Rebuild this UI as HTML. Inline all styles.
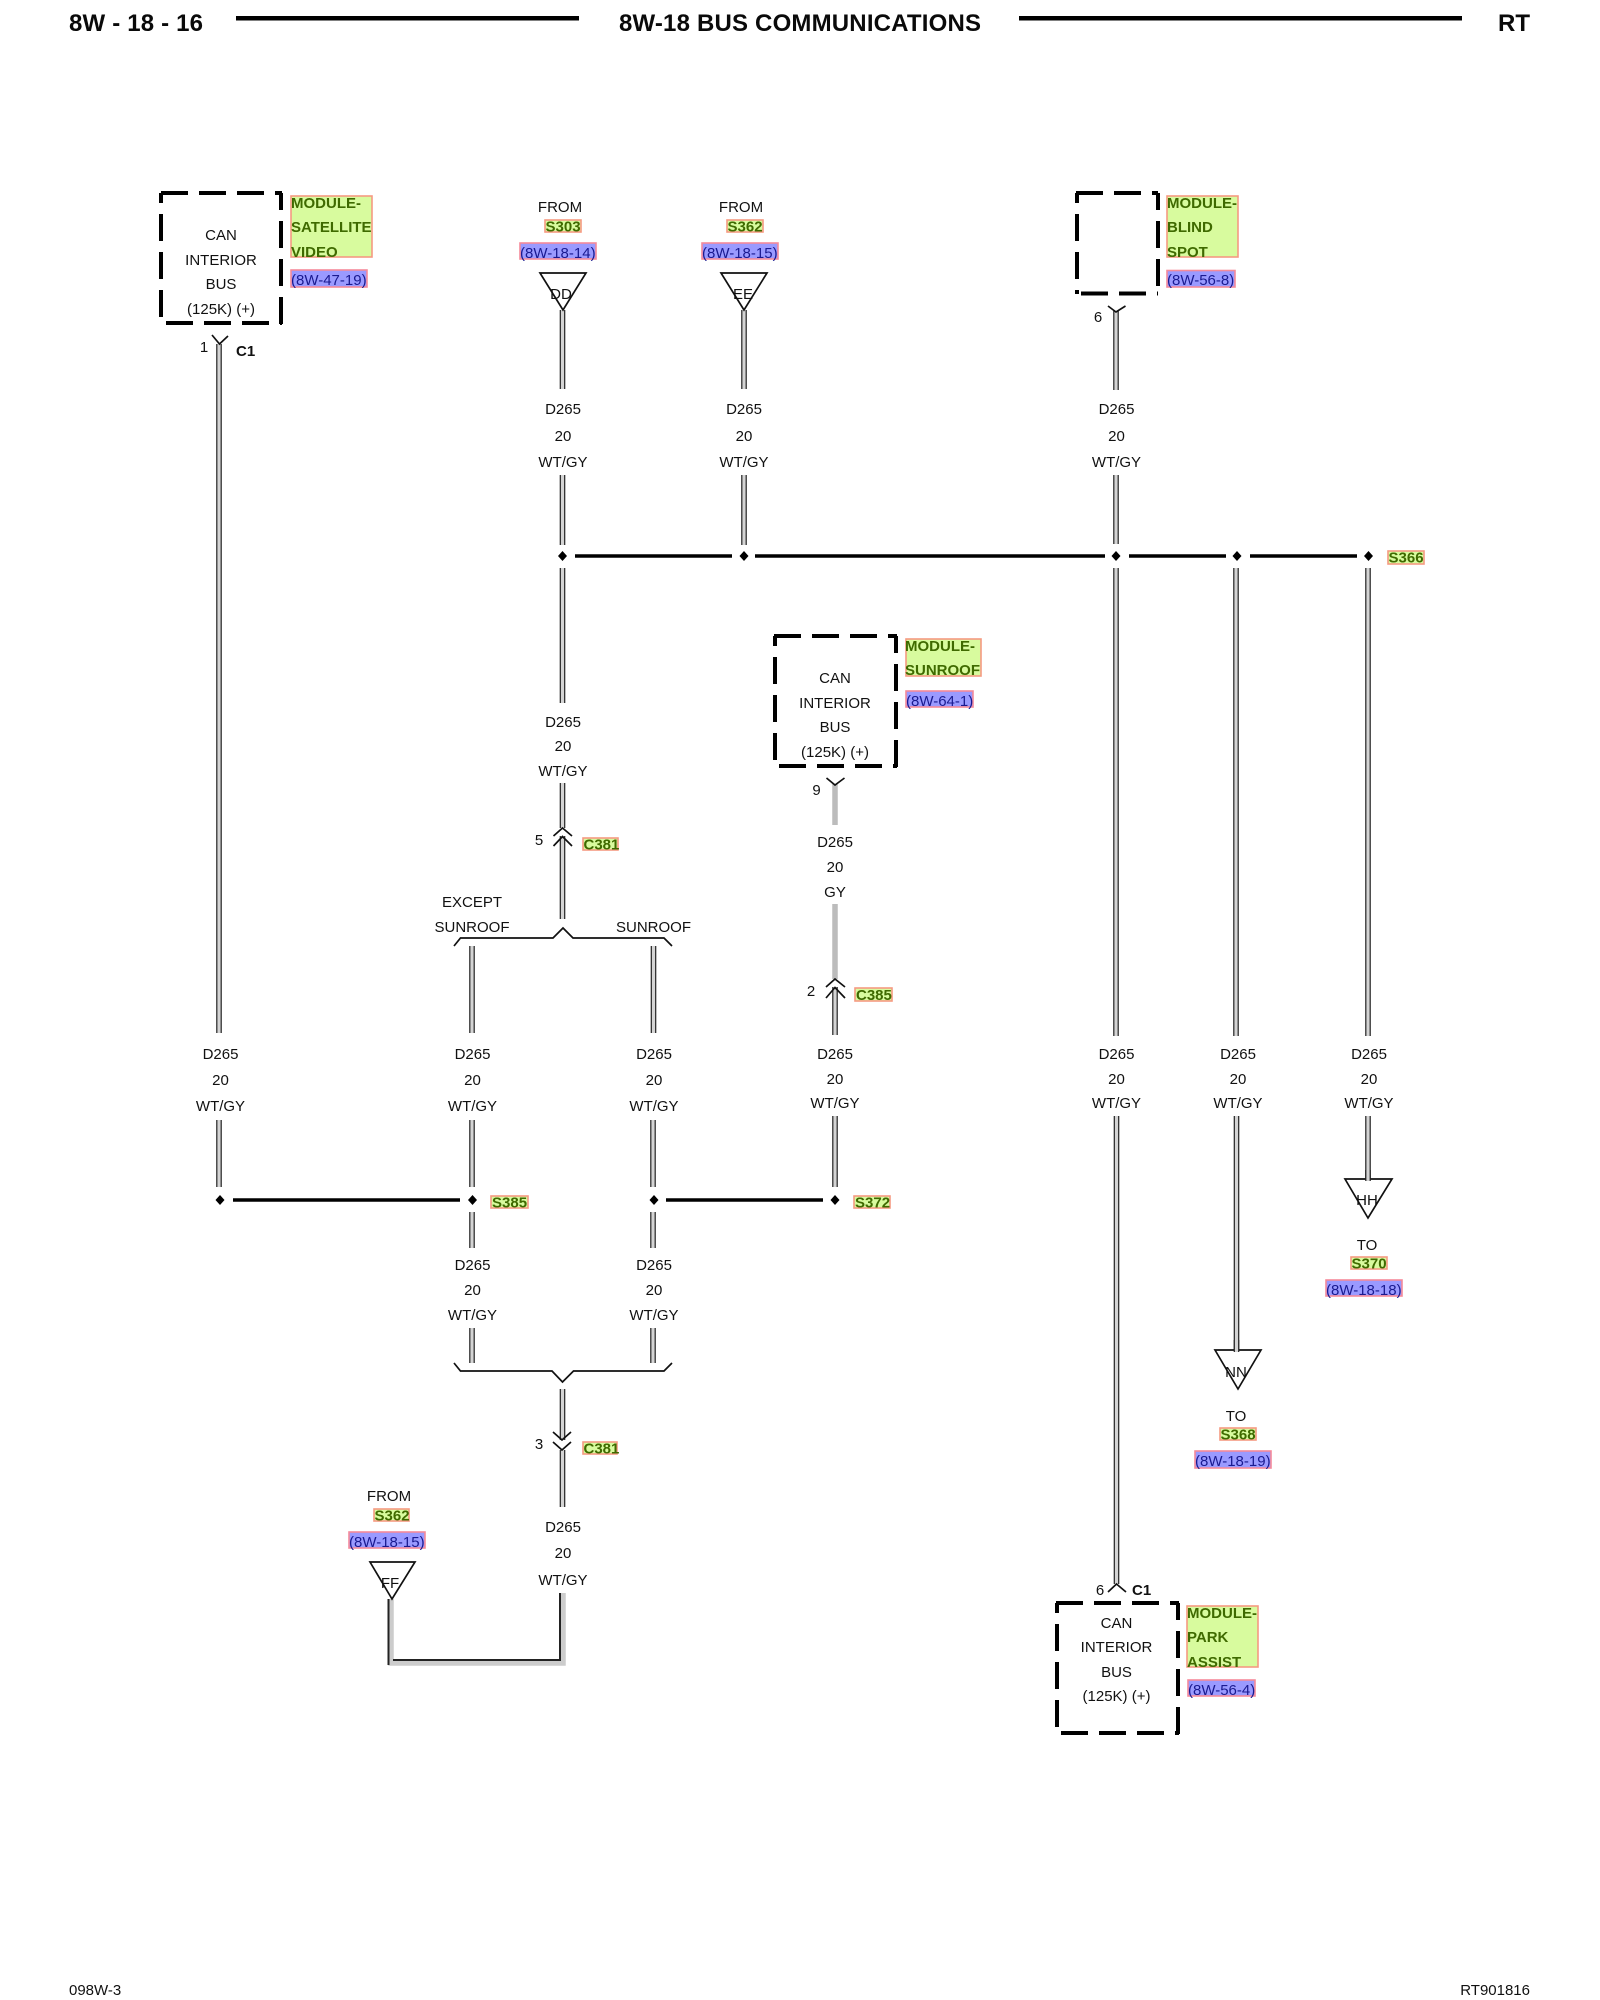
<!DOCTYPE html>
<html><head><meta charset="utf-8"><title>8W-18 Bus Communications</title>
<style>
html,body{margin:0;padding:0;background:#fff}
svg{display:block}
text{font-family:"Liberation Sans",Arial,sans-serif;font-size:15px;fill:#111}
.m{text-anchor:middle}
.h{font-weight:bold;font-size:24px;fill:#0a0a0a}
.b{font-weight:bold}
.gt{font-weight:bold;fill:#3f6a00}
.bt{fill:#1a1a90}
.gb{fill:#d8fb9e;stroke:#f59a82;stroke-width:1.6}
.bb{fill:#9a9aff;stroke:#f58a9a;stroke-width:1.6}
.d{stroke:#000;stroke-width:4;fill:none;stroke-dasharray:27 11}
.l{stroke:#000;stroke-width:3.6;fill:none}
.t{stroke:#111;stroke-width:1.7;fill:none}
.tri{stroke:#111;stroke-width:1.7;fill:#fff}
</style></head>
<body>
<svg xmlns="http://www.w3.org/2000/svg" width="1600" height="2000" viewBox="0 0 1600 2000">
<rect width="1600" height="2000" fill="#fff"/>

<!-- header -->
<text class="h" x="69" y="31" textLength="134">8W - 18 - 16</text>
<text class="h" x="619" y="31" textLength="362">8W-18 BUS COMMUNICATIONS</text>
<text class="h" x="1498" y="31">RT</text>
<rect x="236" y="16" width="343" height="4.5" fill="#000"/>
<rect x="1019" y="16" width="443" height="4.5" fill="#000"/>

<!-- module boxes -->
<g>
<path class="d" d="M161 193H282"/><path class="d" d="M161 193V324" stroke-dashoffset="17"/><path class="d" d="M161 323H282" stroke-dashoffset="33"/><path class="d" d="M281 193V324" stroke-dashoffset="10"/>
<path class="d" d="M1076 193H1158"/><path class="d" d="M1077 193V294" stroke-dashoffset="17"/><path class="d" d="M1076 293.500H1158" stroke-dashoffset="33"/><path class="d" d="M1158 193V294" stroke-dashoffset="10"/>
<path class="d" d="M774 636H897"/><path class="d" d="M775 636V767" stroke-dashoffset="17"/><path class="d" d="M774 766H897" stroke-dashoffset="33"/><path class="d" d="M896 636V767" stroke-dashoffset="10"/>
<path class="d" d="M1056 1603H1179"/><path class="d" d="M1057 1603V1734" stroke-dashoffset="17"/><path class="d" d="M1056 1733H1179" stroke-dashoffset="33"/><path class="d" d="M1178 1603V1734" stroke-dashoffset="10"/>
</g>

<!-- wires -->
<path stroke="#222" stroke-width="5.600" fill="none" d="M219 344V1033M562.500 310V389M562.500 475V545M562.500 568V703M562.500 783V828M562.500 836V919M744 310V389M744 475V545M1116 311V390M1116 475V544M1116 568V1036M1236 568V1036M1368 568V1036M472 946V1033M653.500 946V1033M219 1120V1187M472 1120V1187M653 1120V1187M835 987V1035M835 1116V1187M472 1212V1248M653 1212V1248M472 1328V1363M653 1328V1363M562.500 1389V1440M562.500 1450V1507M1116.500 1116V1584M1236.500 1116V1352M1368 1116V1181"/>
<path stroke="#d4d4d4" stroke-width="3.200" fill="none" d="M219 344V1033M562.500 310V389M562.500 475V545M562.500 568V703M562.500 783V828M562.500 836V919M744 310V389M744 475V545M1116 311V390M1116 475V544M1116 568V1036M1236 568V1036M1368 568V1036M472 946V1033M653.500 946V1033M219 1120V1187M472 1120V1187M653 1120V1187M835 987V1035M835 1116V1187M472 1212V1248M653 1212V1248M472 1328V1363M653 1328V1363M562.500 1389V1440M562.500 1450V1507M1116.500 1116V1584M1236.500 1116V1352M1368 1116V1181"/>
<!-- grey wire -->
<path stroke="#bcbcbc" stroke-width="5.500" fill="none" d="M835 784V825M835 904V979"/>
<!-- bottom loop -->
<path stroke="#ccc" stroke-width="5.500" fill="none" d="M391 1599V1663H563V1593"/>
<path stroke="#222" stroke-width="2" fill="none" d="M388.500 1599V1665M393 1660H560V1593"/>

<!-- black bus lines -->
<path class="l" d="M575 556H732M755 556H1105M1129 556H1226M1250 556H1357M233 1200H460M666 1200H823"/>
<!-- splices -->
<g fill="#000">
<path d="M562.500 551l4.500 5-4.500 5-4.500-5zM744 551l4.500 5-4.500 5-4.500-5zM1116 551l4.500 5-4.500 5-4.500-5zM1237 551l4.500 5-4.500 5-4.500-5zM1368.500 551l4.500 5-4.500 5-4.500-5z"/>
<path d="M220 1195l4.500 5-4.500 5-4.500-5zM472.500 1195l4.500 5-4.500 5-4.500-5zM654 1195l4.500 5-4.500 5-4.500-5zM835 1195l4.500 5-4.500 5-4.500-5z"/>
</g>

<!-- forks, chevrons, braces -->
<path class="t" d="M212 335L219.500 344L228 336M1108 306L1116 312L1125.500 306M826.500 778L835 785L844.500 778M1108 1592L1116.500 1584L1126 1592"/>
<path class="t" d="M553.500 836L562.500 828L572 836M553.500 846L562.500 836.500L572 846M826 987L835 979L845 987M826 998L835 987.500L845 998"/>
<path class="t" d="M553 1432L562 1440L571 1432M553 1442L562 1450L571 1442"/>
<path class="t" d="M454 946L460.500 938H553L563 928L573 938H664L672 946"/>
<path class="t" d="M454 1363L460.500 1371H552L562.500 1382L573.500 1371H664L672 1363"/>

<!-- triangles -->
<path class="tri" d="M540 273H586L563 310Z"/>
<path class="tri" d="M721 273H767L744 310Z"/>
<path class="tri" d="M370 1562H415L392 1599Z"/>
<path class="tri" d="M1345 1179H1392L1368 1218Z"/>
<path class="tri" d="M1215 1350H1261L1238 1389Z"/>
<path stroke="#222" stroke-width="5.600" d="M1368 1170V1181M1236.500 1340V1352"/>
<path stroke="#d4d4d4" stroke-width="3.200" d="M1368 1170V1181M1236.500 1340V1352"/>
<text class="m" x="561" y="299">DD</text>
<text class="m" x="743" y="299">EE</text>
<text class="m" x="390" y="1588">FF</text>
<text class="m" x="1367" y="1205">HH</text>
<text class="m" x="1236" y="1377">NN</text>

<!-- green module labels -->
<rect class="gb" x="291" y="196" width="81" height="61"/>
<text class="gt" x="291" y="208">MODULE-</text><text class="gt" x="291" y="232">SATELLITE</text><text class="gt" x="291" y="257">VIDEO</text>
<rect class="gb" x="1167" y="196" width="71" height="61"/>
<text class="gt" x="1167" y="208">MODULE-</text><text class="gt" x="1167" y="232">BLIND</text><text class="gt" x="1167" y="257">SPOT</text>
<rect class="gb" x="906" y="639" width="75" height="37"/>
<text class="gt" x="905" y="651">MODULE-</text><text class="gt" x="905" y="675">SUNROOF</text>
<rect class="gb" x="1187" y="1606" width="71" height="61"/>
<text class="gt" x="1187" y="1618">MODULE-</text><text class="gt" x="1187" y="1642">PARK</text><text class="gt" x="1187" y="1667">ASSIST</text>

<!-- blue refs -->
<rect class="bb" x="291" y="270" width="76" height="17"/><text class="bt" x="291" y="285">(8W-47-19)</text>
<rect class="bb" x="520" y="243" width="76" height="16"/><text class="bt" x="520" y="258">(8W-18-14)</text>
<rect class="bb" x="702" y="243" width="76" height="16"/><text class="bt" x="702" y="258">(8W-18-15)</text>
<rect class="bb" x="1167" y="270.500" width="68" height="16.500"/><text class="bt" x="1167" y="285">(8W-56-8)</text>
<rect class="bb" x="906" y="691" width="67" height="16"/><text class="bt" x="906" y="706">(8W-64-1)</text>
<rect class="bb" x="1188" y="1680" width="67" height="16"/><text class="bt" x="1188" y="1695">(8W-56-4)</text>
<rect class="bb" x="349" y="1532" width="76" height="16"/><text class="bt" x="349" y="1547">(8W-18-15)</text>
<rect class="bb" x="1326" y="1280" width="76" height="16"/><text class="bt" x="1326" y="1295">(8W-18-18)</text>
<rect class="bb" x="1195" y="1451" width="76" height="17"/><text class="bt" x="1195" y="1466">(8W-18-19)</text>

<!-- green tags -->
<rect class="gb" x="545" y="220" width="36" height="12"/><text class="gt" x="545.500" y="231.500">S303</text>
<rect class="gb" x="727" y="220" width="36" height="12"/><text class="gt" x="727.500" y="231.500">S362</text>
<rect class="gb" x="1388" y="551" width="36" height="13"/><text class="gt" x="1388.500" y="562.500">S366</text>
<rect class="gb" x="583" y="838" width="35" height="12"/><text class="gt" x="583.500" y="849.500">C381</text>
<rect class="gb" x="855" y="988" width="37" height="13"/><text class="gt" x="856" y="1000">C385</text>
<rect class="gb" x="491" y="1196" width="37" height="12"/><text class="gt" x="492" y="1207.500">S385</text>
<rect class="gb" x="854" y="1196" width="36" height="12"/><text class="gt" x="855" y="1207.500">S372</text>
<rect class="gb" x="583" y="1442" width="34" height="12"/><text class="gt" x="583.500" y="1453.500">C381</text>
<rect class="gb" x="374" y="1509" width="35" height="12"/><text class="gt" x="374.500" y="1520.500">S362</text>
<rect class="gb" x="1351" y="1257" width="36" height="12"/><text class="gt" x="1351.500" y="1268.500">S370</text>
<rect class="gb" x="1220" y="1428" width="36" height="12"/><text class="gt" x="1220.500" y="1439.500">S368</text>

<!-- box text -->
<g>
<text x="221" y="240" text-anchor="middle">CAN</text><text x="221" y="265" text-anchor="middle">INTERIOR</text><text x="221" y="289" text-anchor="middle">BUS</text><text x="221" y="314" text-anchor="middle">(125K) (+)</text>
<text x="835" y="683" text-anchor="middle">CAN</text><text x="835" y="708" text-anchor="middle">INTERIOR</text><text x="835" y="732" text-anchor="middle">BUS</text><text x="835" y="757" text-anchor="middle">(125K) (+)</text>
<text x="1116.500" y="1628" text-anchor="middle">CAN</text><text x="1116.500" y="1652" text-anchor="middle">INTERIOR</text><text x="1116.500" y="1677" text-anchor="middle">BUS</text><text x="1116.500" y="1701" text-anchor="middle">(125K) (+)</text>

<text x="560" y="212" text-anchor="middle">FROM</text>
<text x="741" y="212" text-anchor="middle">FROM</text>
<text x="389" y="1501" text-anchor="middle">FROM</text>
<text x="1367" y="1250" text-anchor="middle">TO</text>
<text x="1236" y="1421" text-anchor="middle">TO</text>
<text x="472" y="907" text-anchor="middle">EXCEPT</text>
<text x="472" y="932" text-anchor="middle">SUNROOF</text>
<text x="653.500" y="932" text-anchor="middle">SUNROOF</text>

<text x="204" y="352" text-anchor="middle">1</text>
<text x="1098" y="322" text-anchor="middle">6</text>
<text x="816.500" y="795" text-anchor="middle">9</text>
<text x="539" y="845" text-anchor="middle">5</text>
<text x="811" y="996" text-anchor="middle">2</text>
<text x="539" y="1449" text-anchor="middle">3</text>
<text x="1100" y="1595" text-anchor="middle">6</text>

<!-- wire labels -->
<text x="563" y="414" text-anchor="middle">D265</text><text x="563" y="441" text-anchor="middle">20</text><text x="563" y="467" text-anchor="middle">WT/GY</text>
<text x="744" y="414" text-anchor="middle">D265</text><text x="744" y="441" text-anchor="middle">20</text><text x="744" y="467" text-anchor="middle">WT/GY</text>
<text x="1116.500" y="414" text-anchor="middle">D265</text><text x="1116.500" y="441" text-anchor="middle">20</text><text x="1116.500" y="467" text-anchor="middle">WT/GY</text>
<text x="563" y="727" text-anchor="middle">D265</text><text x="563" y="751" text-anchor="middle">20</text><text x="563" y="776" text-anchor="middle">WT/GY</text>
<text x="835" y="847" text-anchor="middle">D265</text><text x="835" y="872" text-anchor="middle">20</text><text x="835" y="897" text-anchor="middle">GY</text>
<text x="220.500" y="1059" text-anchor="middle">D265</text><text x="220.500" y="1085" text-anchor="middle">20</text><text x="220.500" y="1111" text-anchor="middle">WT/GY</text>
<text x="472.500" y="1059" text-anchor="middle">D265</text><text x="472.500" y="1085" text-anchor="middle">20</text><text x="472.500" y="1111" text-anchor="middle">WT/GY</text>
<text x="654" y="1059" text-anchor="middle">D265</text><text x="654" y="1085" text-anchor="middle">20</text><text x="654" y="1111" text-anchor="middle">WT/GY</text>
<text x="835" y="1059" text-anchor="middle">D265</text><text x="835" y="1084" text-anchor="middle">20</text><text x="835" y="1108" text-anchor="middle">WT/GY</text>
<text x="1116.500" y="1059" text-anchor="middle">D265</text><text x="1116.500" y="1084" text-anchor="middle">20</text><text x="1116.500" y="1108" text-anchor="middle">WT/GY</text>
<text x="1238" y="1059" text-anchor="middle">D265</text><text x="1238" y="1084" text-anchor="middle">20</text><text x="1238" y="1108" text-anchor="middle">WT/GY</text>
<text x="1369" y="1059" text-anchor="middle">D265</text><text x="1369" y="1084" text-anchor="middle">20</text><text x="1369" y="1108" text-anchor="middle">WT/GY</text>
<text x="472.500" y="1270" text-anchor="middle">D265</text><text x="472.500" y="1295" text-anchor="middle">20</text><text x="472.500" y="1320" text-anchor="middle">WT/GY</text>
<text x="654" y="1270" text-anchor="middle">D265</text><text x="654" y="1295" text-anchor="middle">20</text><text x="654" y="1320" text-anchor="middle">WT/GY</text>
<text x="563" y="1532" text-anchor="middle">D265</text><text x="563" y="1558" text-anchor="middle">20</text><text x="563" y="1585" text-anchor="middle">WT/GY</text>
</g>
<text class="b" x="236" y="356">C1</text>
<text class="b" x="1132" y="1595">C1</text>

<!-- footer -->
<text x="69" y="1995">098W-3</text>
<text x="1530" y="1995" text-anchor="end">RT901816</text>
</svg>
</body></html>
